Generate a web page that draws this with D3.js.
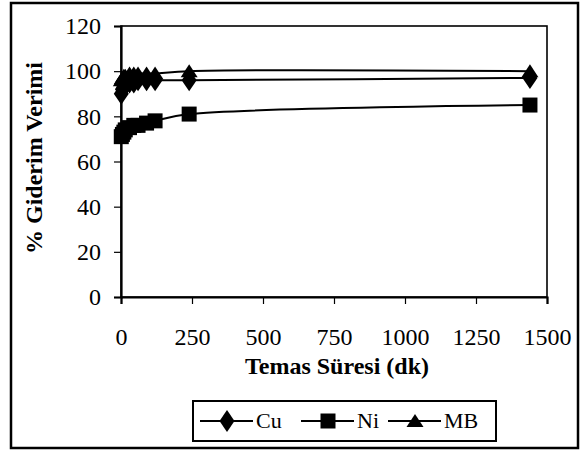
<!DOCTYPE html>
<html>
<head>
<meta charset="utf-8">
<script src="https://cdn.jsdelivr.net/npm/d3@7"></script>
<style>
  body { margin: 0; background: #fff; }
  svg text { font-family: "Liberation Serif", "Times New Roman", "DejaVu Serif", serif; fill: #000; }
</style>
</head>
<body>
<svg id="chart" width="587" height="451"></svg>
<script>
// contact time (min) and removal efficiency (%) per species
const times = [1, 5, 10, 15, 30, 45, 60, 90, 120, 240, 1440];
const cuValues = [90, 92, 93, 94, 95, 95, 96, 96, 96, 96, 97];
const niValues = [71, 72, 73, 74, 75, 76, 76, 77, 78, 81, 85];
const mbValues = [96, 97, 98, 98, 99, 99, 99, 99, 99, 100, 100];

const seriesNames = ['Cu', 'Ni', 'MB'];
const xTicks = [0, 250, 500, 750, 1000, 1250, 1500];
const yTicks = [0, 20, 40, 60, 80, 100, 120];

const series = [
    {name: 'Cu', values: cuValues, marker: 'diamond'},
    {name: 'Ni', values: niValues, marker: 'square'},
    {name: 'MB', values: mbValues, marker: 'triangle'}
];

const serif = '"Liberation Serif", "Times New Roman", "DejaVu Serif", serif';

const svg = d3.select('#chart');
const plot = {l: 121, r: 547, t: 26, b: 297};

const x = d3.scaleLinear().domain([0, 1500]).range([plot.l, plot.r]);
const y = d3.scaleLinear().domain([0, 120]).range([plot.b, plot.t]);

// outer frame
svg.append('rect')
    .attr('x', 11).attr('y', 3)
    .attr('width', 567).attr('height', 445)
    .attr('fill', 'none').attr('stroke', '#000').attr('stroke-width', 2.5);

// plot area border
svg.append('rect')
    .attr('x', plot.l).attr('y', plot.t)
    .attr('width', plot.r - plot.l).attr('height', plot.b - plot.t)
    .attr('fill', 'none').attr('stroke', '#000').attr('stroke-width', 1.6);

// axes
const xAxis = svg.append('g')
    .attr('transform', `translate(0,${plot.b})`)
    .call(d3.axisBottom(x).tickValues(xTicks).tickSize(7).tickPadding(22).tickFormat(d3.format('d')));
const yAxis = svg.append('g')
    .attr('transform', `translate(${plot.l},0)`)
    .call(d3.axisLeft(y).tickValues(yTicks).tickSize(7).tickPadding(13).tickFormat(d3.format('d')));

[xAxis, yAxis].forEach(g => {
    g.attr('font-family', serif);
    g.select('.domain').attr('stroke', '#000').attr('stroke-width', 2.2);
    g.selectAll('.tick line').attr('stroke', '#000').attr('stroke-width', 1.2);
    g.selectAll('.tick text')
        .style('font-family', serif)
        .attr('font-size', 24)
        .attr('fill', '#000');
});
xAxis.selectAll('.tick text').attr('dy', '0.71em').attr('y', 31);

// axis titles
svg.append('text')
    .attr('x', 337).attr('y', 374)
    .attr('text-anchor', 'middle')
    .style('font-family', serif)
    .attr('font-size', 24).attr('font-weight', 'bold')
    .text('Temas Süresi (dk)');

svg.append('text')
    .attr('transform', 'translate(42,158) rotate(-90)')
    .attr('text-anchor', 'middle')
    .style('font-family', serif)
    .attr('font-size', 24).attr('font-weight', 'bold')
    .text('% Giderim Verimi');

// marker shapes
function markerPath(type) {
    if (type === 'diamond') return 'M0,-11 L7.5,0 L0,11 L-7.5,0 Z';
    if (type === 'square') return 'M-7.5,-7.5 H7.5 V7.5 H-7.5 Z';
    return 'M0,-7 L8.5,6 L-8.5,6 Z';
}

const line = d3.line()
    .x((d, i) => x(times[i]))
    .y(d => y(d))
    .curve(d3.curveCatmullRom.alpha(0.5));

const g = svg.append('g');

series.forEach(s => {
    g.append('path')
        .attr('d', line(s.values))
        .attr('fill', 'none')
        .attr('stroke', '#000')
        .attr('stroke-width', 2);
});

series.forEach(s => {
    g.selectAll(null)
        .data(s.values)
        .join('path')
        .attr('transform', (d, i) => `translate(${x(times[i])},${y(d)})`)
        .attr('d', markerPath(s.marker))
        .attr('fill', '#000');
});

// legend
const legend = svg.append('g');
legend.append('rect')
    .attr('x', 193).attr('y', 401)
    .attr('width', 303).attr('height', 40)
    .attr('fill', 'none').attr('stroke', '#000').attr('stroke-width', 2);

const legendX = [200, 301, 388];
series.forEach((s, i) => {
    const lx = legendX[i];
    legend.append('line')
        .attr('x1', lx).attr('x2', lx + 53)
        .attr('y1', 421).attr('y2', 421)
        .attr('stroke', '#000').attr('stroke-width', 2);
    legend.append('path')
        .attr('transform', `translate(${lx + 27},421)`)
        .attr('d', markerPath(s.marker))
        .attr('fill', '#000');
    legend.append('text')
        .attr('x', lx + 56).attr('y', 428)
        .style('font-family', serif)
        .attr('font-size', 22)
        .text(seriesNames[i]);
});
</script>
</body>
</html>
